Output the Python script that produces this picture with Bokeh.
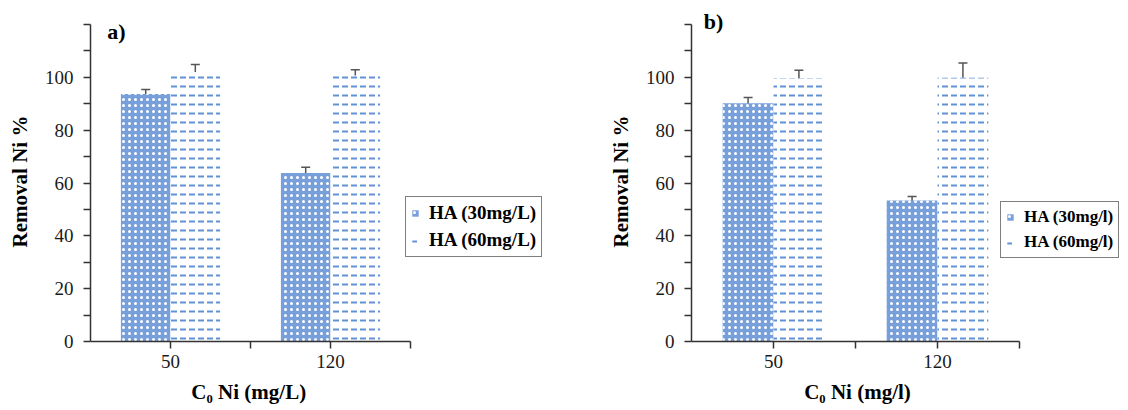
from bokeh.plotting import figure
from bokeh.models import (ColumnDataSource, Range1d, FixedTicker, Whisker, TeeHead,
                          Legend, LegendItem, Label)
from bokeh.layouts import row
from bokeh.embed import file_html
from bokeh.resources import INLINE

# ---------------- data ----------------
concentrations = ["50", "120"]
category_slots = [1, 3]          # tick slots where the two concentrations sit
n_slots = 4

ha30_a = [93.7, 63.8]
ha30_a_err = [1.7, 2.2]
ha60_a = [102.0, 100.7]
ha60_a_err = [2.9, 2.2]

ha30_b = [90.2, 53.4]
ha30_b_err = [2.2, 1.5]
ha60_b = [99.7, 99.8]
ha60_b_err = [3.0, 5.6]

y_max = 120
y_ticks = list(range(0, 121, 10))
y_tick_labels = [0, 20, 40, 60, 80, 100]

SERIF = "Liberation Serif"
BLUE = "#77a0db"
DASH_BLUE = "#5f93d6"
EM = "\u2003"
EN = "\u2002"


def pad(px, font_px):
    """trailing spaces of about px width (keeps label centred where wanted)"""
    n_em = int(px // font_px)
    rest = px - n_em * font_px
    n_en = int(round(rest / (font_px / 2)))
    return EM * n_em + EN * n_en


def make_panel(ha30, ha30_err, ha60, ha60_err, unit, tag, fig_w, left, axis_w,
               legend_loc, legend_font, tag_x, tag_y):
    bar_w = 0.62
    x30 = [s - bar_w / 2 for s in category_slots]
    x60 = [s + bar_w / 2 for s in category_slots]
    src30 = ColumnDataSource(dict(x=x30, top=ha30,
                                  lo=[v - e for v, e in zip(ha30, ha30_err)],
                                  hi=[v + e for v, e in zip(ha30, ha30_err)]))
    src60 = ColumnDataSource(dict(x=x60, top=ha60,
                                  lo=[v - e for v, e in zip(ha60, ha60_err)],
                                  hi=[v + e for v, e in zip(ha60, ha60_err)]))

    H = 410
    axis_top = 24      # px from top where the value axis ends
    axis_h = 317       # px height of the value axis
    frame_h = axis_top + axis_h
    frame_w = fig_w - left
    x_end = n_slots * frame_w / axis_w
    y_end = y_max * frame_h / axis_h
    p = figure(width=fig_w, height=H, output_backend="svg", toolbar_location=None,
               x_range=Range1d(0, x_end), y_range=Range1d(0, y_end),
               min_border_left=left, min_border_right=0,
               min_border_top=0, min_border_bottom=H - frame_h)
    p.outline_line_color = None
    p.xgrid.visible = False
    p.ygrid.visible = False
    p.background_fill_color = "white"
    p.border_fill_color = "white"

    r30 = p.vbar(x="x", top="top", width=bar_w, source=src30, line_color=None,
                 fill_color=BLUE, hatch_pattern="dot", hatch_color="white",
                 hatch_scale=6, hatch_weight=1)
    r60 = p.vbar(x="x", top="top", width=bar_w, source=src60, line_color=None,
                 fill_color="white", hatch_pattern="horizontal_dash",
                 hatch_color=DASH_BLUE, hatch_scale=9, hatch_weight=2)

    for s in (src30, src60):
        w = Whisker(base="x", lower="lo", upper="hi", source=s,
                    line_color="#555555", line_width=1.5,
                    upper_head=TeeHead(size=9, line_color="#555555", line_width=1.5),
                    lower_head=TeeHead(size=9, line_color="#555555", line_width=1.5))
        p.add_layout(w)

    # y axis
    ya = p.yaxis[0]
    ya.bounds = (0, y_max)
    ya.ticker = FixedTicker(ticks=y_ticks)
    ya.major_label_overrides = {t: (str(t) if t in y_tick_labels else "") for t in y_ticks}
    ya.minor_tick_line_color = None
    ya.major_tick_in = 0
    ya.major_tick_out = 7
    ya.major_label_standoff = 10
    y_shift = (axis_top + axis_h / 2) - frame_h / 2
    ya.axis_label = "Removal Ni %" + pad(2 * y_shift, 21)
    ya.axis_label_standoff = 10

    # x axis (limited to the category slots)
    xa = p.xaxis[0]
    xa.bounds = (0, n_slots)
    xa.ticker = FixedTicker(ticks=list(range(1, n_slots + 1)))
    overrides = {t: "" for t in range(1, n_slots + 1)}
    for slot, lab in zip(category_slots, concentrations):
        overrides[slot] = lab
    xa.major_label_overrides = overrides
    xa.minor_tick_line_color = None
    xa.major_tick_in = 0
    xa.major_tick_out = 7
    xa.major_label_standoff = 6
    x_shift = frame_w / 2 - axis_w / 2
    xa.axis_label = "C\u2080 Ni (mg/" + unit + ")" + pad(2 * x_shift, 21)
    xa.axis_label_standoff = 9

    for ax in (xa, ya):
        ax.axis_line_color = "#333333"
        ax.axis_line_width = 1.5
        ax.major_tick_line_color = "#333333"
        ax.major_tick_line_width = 1.5
        ax.major_label_text_font = SERIF
        ax.major_label_text_font_size = "19px"
        ax.major_label_text_color = "#1a1a1a"
        ax.axis_label_text_font = SERIF
        ax.axis_label_text_font_style = "bold"
        ax.axis_label_text_font_size = "21px"
        ax.axis_label_text_color = "black"

    legend = Legend(items=[LegendItem(label="HA (30mg/" + unit + ")", renderers=[r30]),
                           LegendItem(label="HA (60mg/" + unit + ")", renderers=[r60])],
                    location=legend_loc)
    legend.label_text_font = SERIF
    legend.label_text_font_style = "bold"
    legend.label_text_font_size = legend_font
    legend.label_text_color = "black"
    legend.border_line_color = "black"
    legend.border_line_width = 1.5
    legend.background_fill_color = "white"
    legend.background_fill_alpha = 1.0
    legend.glyph_width = 8
    legend.glyph_height = 8
    legend.label_standoff = 10
    legend.label_height = 20
    legend.padding = 5
    legend.spacing = 5
    legend.margin = 0
    p.add_layout(legend)

    p.add_layout(Label(x=tag_x, y=tag_y, text=tag, text_font=SERIF,
                       text_font_style="bold", text_font_size="22px",
                       text_color="black", text_baseline="alphabetic"))
    return p


pa = make_panel(ha30_a, ha30_a_err, ha60_a, ha60_a_err, "L", "a)",
                fig_w=564, left=90, axis_w=320, legend_loc=(315, 84),
                legend_font="19px", tag_x=0.21, tag_y=117.5)
pb = make_panel(ha30_b, ha30_b_err, ha60_b, ha60_b_err, "l", "b)",
                fig_w=564, left=127, axis_w=328, legend_loc=(309, 83),
                legend_font="17px", tag_x=0.15, tag_y=121.3)

layout = row(pa, pb)
open("out.html", "w").write(file_html(layout, INLINE))
